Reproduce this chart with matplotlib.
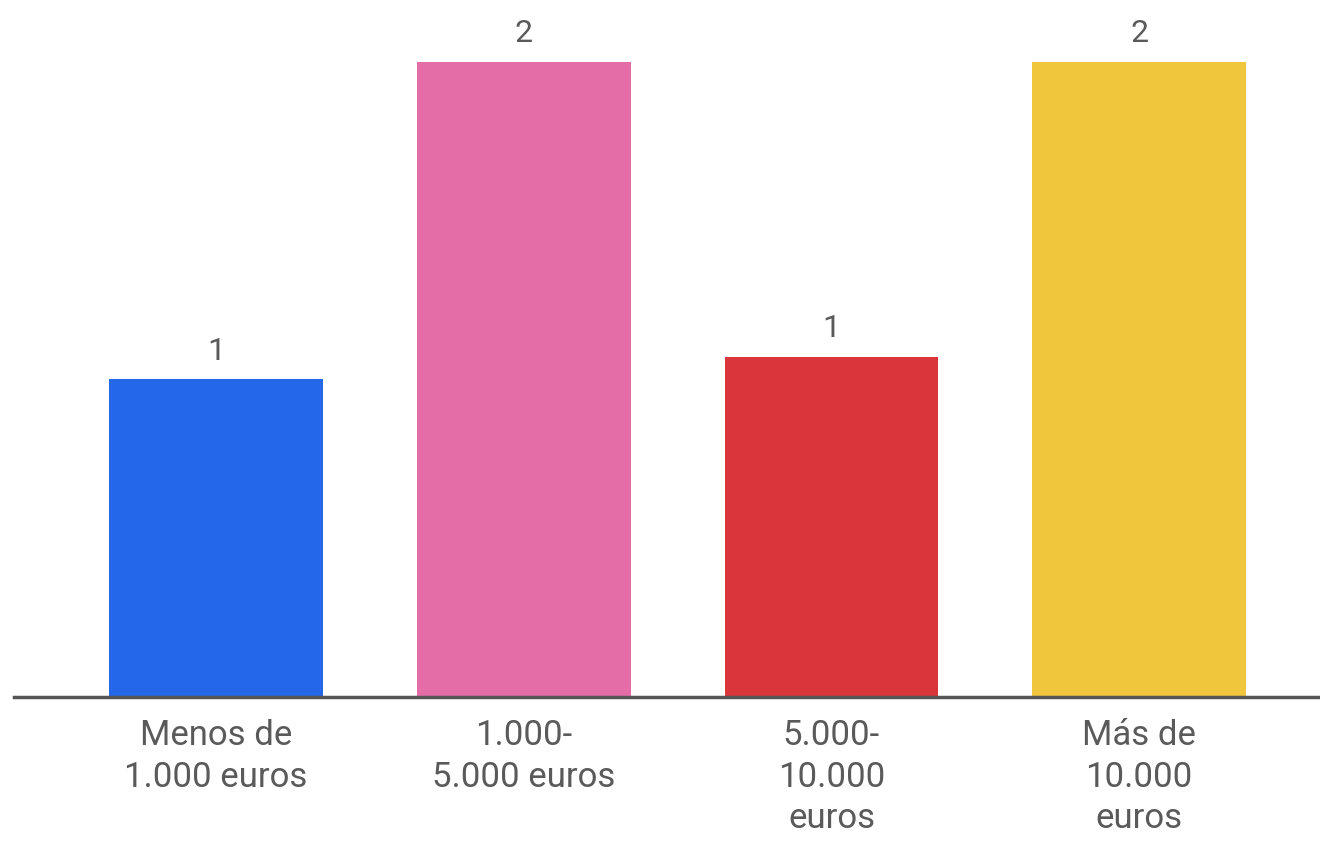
import matplotlib
matplotlib.use("Agg")
import matplotlib.pyplot as plt

# Data
categories = ["Menos de\n1.000 euros", "1.000-\n5.000 euros", "5.000-\n10.000\neuros", "Más de\n10.000\neuros"]
values = [1.0, 2.0, 1.07, 2.0]
colors = ["#2467E9", "#E46DA8", "#D9353B", "#F0C63D"]

plt.rcParams["font.family"] = ["Roboto", "DejaVu Sans"]
text_color = "#5a5a5a"

fig = plt.figure(figsize=(13.2, 8.41), dpi=100)
ax = fig.add_axes([0.0106, 0.1712, 0.9894, 0.8288])

x = range(len(categories))
bars = ax.bar(x, values, width=0.695, color=colors, zorder=2)

for rect, v in zip(bars, values):
    ax.annotate(f"{v:.0f}", (rect.get_x() + rect.get_width() / 2, rect.get_height()),
                xytext=(0, 10), textcoords="offset points",
                ha="center", va="bottom", fontsize=23, color=text_color)

ax.set_xlim(-0.657, 3.588)
ax.set_ylim(0, 2.195)
ax.set_xticks(list(x))
ax.set_xticklabels(categories, fontsize=25, color=text_color, linespacing=1.32)
ax.tick_params(axis="x", length=0, pad=16)
ax.set_yticks([])

for side in ("top", "right", "left"):
    ax.spines[side].set_visible(False)
ax.spines["bottom"].set_color("#555555")
ax.spines["bottom"].set_linewidth(2.5)
ax.spines["bottom"].set_zorder(3)

fig.savefig("out.png", dpi=100, facecolor="white")
